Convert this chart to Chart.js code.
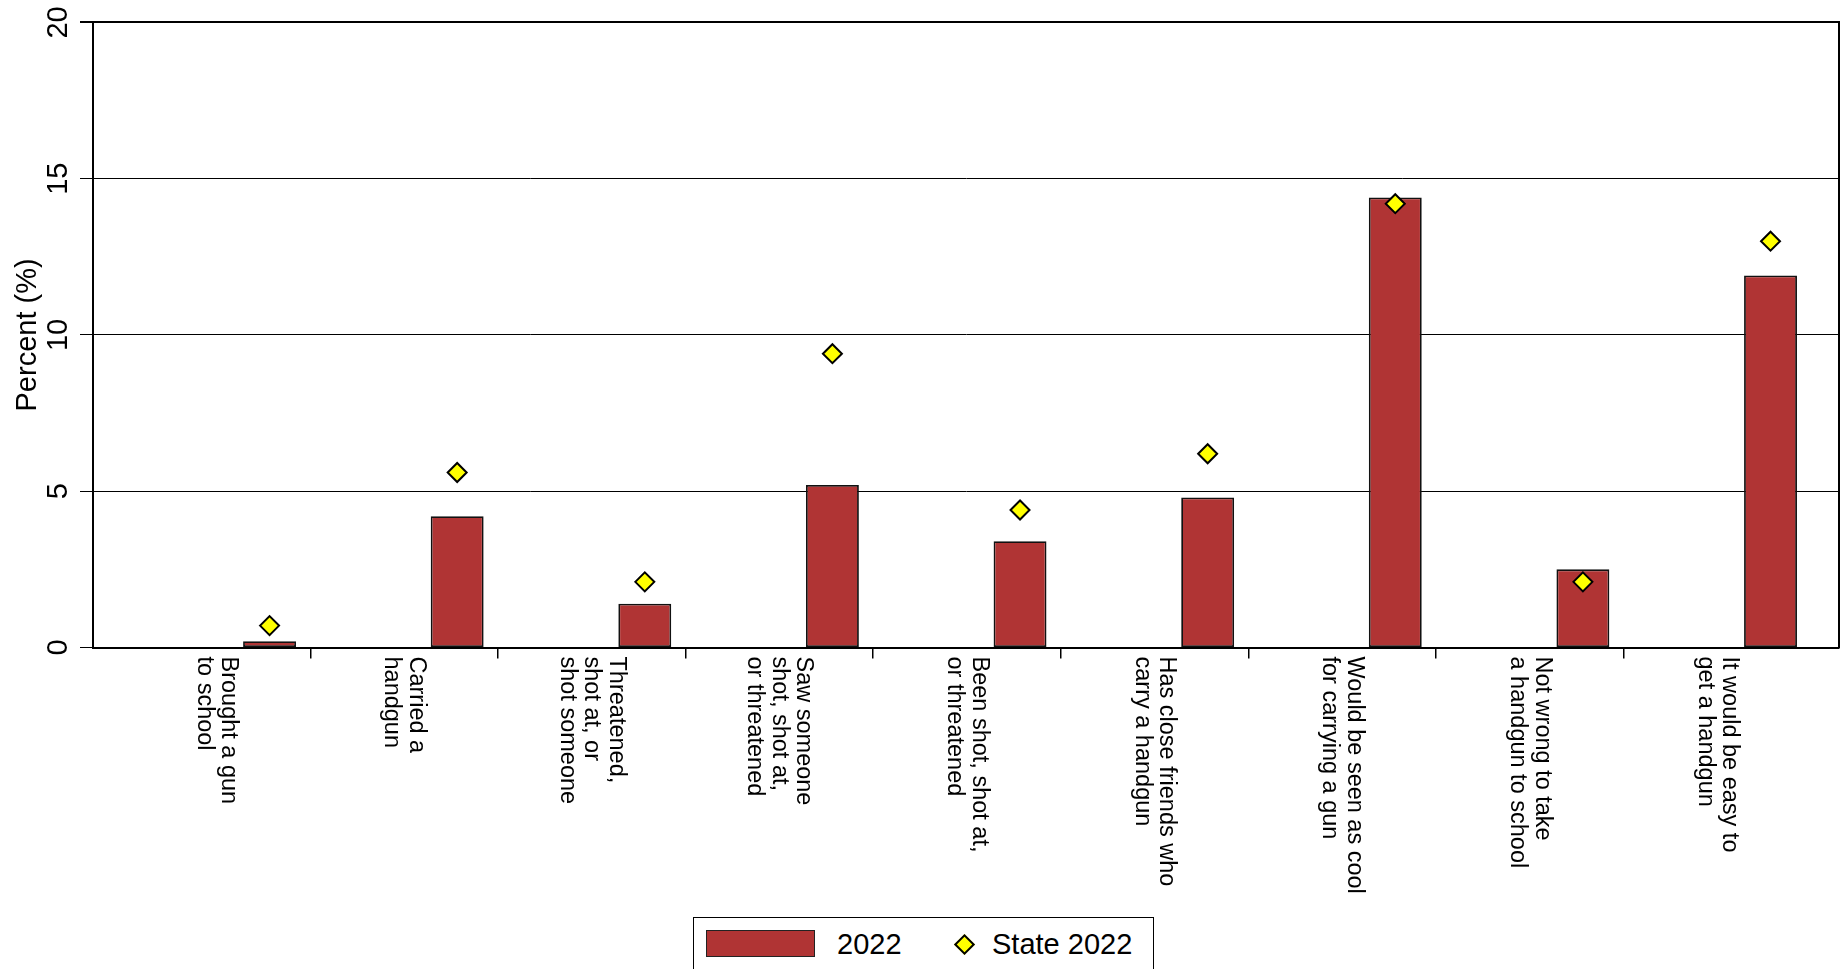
<!DOCTYPE html>
<html>
<head>
<meta charset="utf-8">
<title>Handgun indicators 2022</title>
<script src="https://cdn.jsdelivr.net/npm/chart.js@4.4.1/dist/chart.umd.min.js"></script>
<style>
  html, body { margin: 0; padding: 0; overflow: hidden; background: #fff; }
  #wrap { position: relative; width: 1847px; height: 969px; overflow: hidden; }
  #legend {
    position: absolute; left: 693px; top: 917px; width: 461px; height: 80px;
    box-sizing: border-box; border: 1px solid #000; background: #fff;
    font-family: "Liberation Sans", Arial, sans-serif; font-size: 29px; color: #000;
  }
  #legend > * { position: absolute; }
  #legend .txt { line-height: 29px; white-space: nowrap; }
  #legend .bar { box-sizing: border-box; border: 1px solid #222; }
  #legend .dia { box-sizing: border-box; width: 15px; height: 15px; border: 2px solid #000; transform: rotate(45deg); }
</style>
</head>
<body>
<div id="wrap">
  <canvas id="graphic" width="1847" height="969"></canvas>
  <div id="legend"></div>
</div>
<script>
const categoryLabels = [
    ['Brought a gun', 'to school'],
    ['Carried a', 'handgun'],
    ['Threatened,', 'shot at, or', 'shot someone'],
    ['Saw someone', 'shot, shot at,', 'or threatened'],
    ['Been shot, shot at,', 'or threatened'],
    ['Has close friends who', 'carry a handgun'],
    ['Would be seen as cool', 'for carrying a gun'],
    ['Not wrong to take', 'a handgun to school'],
    ['It would be easy to', 'get a handgun']
];
const values2022 = [0.2, 4.2, 1.4, 5.2, 3.4, 4.8, 14.4, 2.5, 11.9];
const valuesState2022 = [0.7, 5.6, 2.1, 9.4, 4.4, 6.2, 14.2, 2.1, 13.0];
const yMax = 20;
const yStep = 5;

const FONT = '"Liberation Sans", Arial, sans-serif';
const BAR_COLOR = '#b03434';
const DIAMOND_COLOR = '#ffff00';

// bars and diamonds sit to the right of each category centre
const MARK_SHIFT = 0.283;

const ctx = document.getElementById('graphic');

// category names, turned to read downward, centred under each category
const categoryLabelPlugin = {
    id: 'categoryLabels',
    afterDraw(chart) {
        const xScale = chart.scales.x;
        const c = chart.ctx;
        const lineHeight = 24.5;
        c.save();
        c.font = '23.5px ' + FONT;
        c.fillStyle = '#000';
        c.textAlign = 'left';
        c.textBaseline = 'middle';
        categoryLabels.forEach((lines, i) => {
            c.save();
            c.translate(xScale.getPixelForValue(i), xScale.top + 9);
            c.rotate(Math.PI / 2);
            lines.forEach((line, j) => {
                c.fillText(line, 0, (j - (lines.length - 1) / 2) * lineHeight);
            });
            c.restore();
        });
        c.restore();
    }
};

const chart = new Chart(ctx, {
    type: 'bar',
    data: {
        datasets: [{
            type: 'line',
            label: 'State 2022',
            data: valuesState2022.map((v, i) => ({ x: i + MARK_SHIFT, y: v })),
            showLine: false,
            pointStyle: 'rectRot',
            pointRadius: 9.5,
            pointBackgroundColor: DIAMOND_COLOR,
            pointBorderColor: '#000',
            pointBorderWidth: 2,
            xAxisID: 'x',
            yAxisID: 'y',
            order: 0
        }, {
            label: '2022',
            data: values2022.map((v, i) => ({ x: i + MARK_SHIFT, y: v })),
            backgroundColor: BAR_COLOR,
            borderColor: '#111',
            borderWidth: 1.8,
            borderSkipped: false,
            categoryPercentage: 1,
            barPercentage: 0.282,
            xAxisID: 'x',
            yAxisID: 'y',
            order: 1
        }]
    },
    options: {
        responsive: false,
        animation: false,
        layout: { autoPadding: false, padding: { top: 22, right: 8, bottom: 0, left: 0 } },
        plugins: {
            legend: { display: false },
            tooltip: { enabled: false }
        },
        scales: {
            x: {
                type: 'linear',
                min: -0.658,
                max: 8.648,
                offset: false,
                // tick marks only between categories
                afterBuildTicks: axis => {
                    axis.ticks = categoryLabels.slice(1).map((_, i) => ({ value: i + 0.5 }));
                },
                afterFit: axis => { axis.height = 321.5; },
                ticks: { display: false },
                grid: { offset: false, drawOnChartArea: false, drawTicks: true, tickLength: 11, color: '#000', lineWidth: 1.5 },
                border: { display: true, color: '#000', width: 2 }
            },
            y: {
                min: 0,
                max: yMax,
                afterFit: axis => { axis.width = 93; },
                ticks: {
                    stepSize: yStep,
                    minRotation: 90,
                    maxRotation: 90,
                    crossAlign: 'center',
                    padding: 5,
                    color: '#000',
                    font: { family: FONT, size: 29 }
                },
                grid: {
                    color: '#000',
                    lineWidth: c => (c.tick && c.tick.value === yMax ? 2 : 1),
                    tickLength: 13
                },
                border: { display: true, color: '#000', width: 2 },
                title: {
                    display: true,
                    text: 'Percent (%)',
                    color: '#000',
                    font: { family: FONT, size: 29 },
                    padding: { top: 10.6, bottom: 0 }
                }
            },
            yRight: {
                position: 'right',
                min: 0,
                max: yMax,
                afterFit: axis => { axis.width = 0; },
                ticks: { display: false },
                grid: { drawOnChartArea: false, drawTicks: false },
                border: { display: true, color: '#000', width: 2 }
            }
        }
    },
    plugins: [categoryLabelPlugin]
});

// legend box under the chart, built from the datasets
function buildLegend(chart) {
    const box = document.getElementById('legend');
    const [state, bars] = chart.data.datasets;

    const swatch = document.createElement('span');
    swatch.className = 'bar';
    Object.assign(swatch.style, { left: '12px', top: '12px', width: '109px', height: '27px', background: bars.backgroundColor });
    box.appendChild(swatch);

    const barText = document.createElement('span');
    barText.className = 'txt';
    barText.textContent = bars.label;
    Object.assign(barText.style, { left: '143px', top: '11.5px' });
    box.appendChild(barText);

    const diamond = document.createElement('span');
    diamond.className = 'dia';
    Object.assign(diamond.style, { left: '262.5px', top: '18.5px', background: state.pointBackgroundColor });
    box.appendChild(diamond);

    const stateText = document.createElement('span');
    stateText.className = 'txt';
    stateText.textContent = state.label;
    Object.assign(stateText.style, { left: '298px', top: '11.5px' });
    box.appendChild(stateText);
}

buildLegend(chart);
</script>
</body>
</html>
